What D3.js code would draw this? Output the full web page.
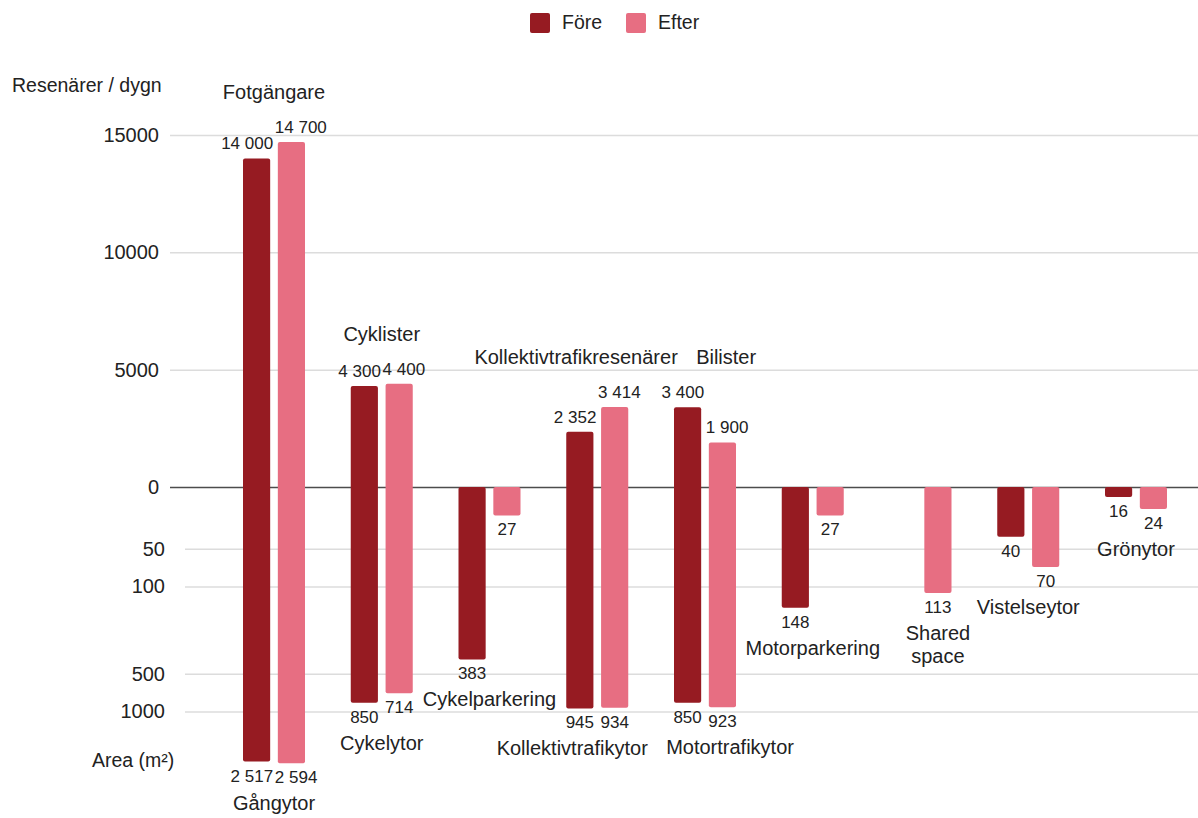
<!DOCTYPE html>
<html>
<head>
<meta charset="utf-8">
<script src="https://cdn.jsdelivr.net/npm/d3@7"></script>
<style>
  html, body { margin: 0; padding: 0; background: #fff; }
  svg { display: block; font-family: "Liberation Sans", Arial, Helvetica, sans-serif; }
</style>
</head>
<body>
<svg id="chart" width="1198" height="818"></svg>
<script>
// ---- Data -------------------------------------------------------------
const series = ["Före", "Efter"];
const travelerGroups = ["Fotgängare", "Cyklister", null, "Kollektivtrafikresenärer", "Bilister", null, null, null, null];
const areaGroups = ["Gångytor", "Cykelytor", "Cykelparkering", "Kollektivtrafikytor", "Motortrafikytor",
                    "Motorparkering", "Shared space", "Vistelseytor", "Grönytor"];
const travelersBefore = [14000, 4300, null, 2352, 3400, null, null, null, null];
const travelersAfter  = [14700, 4400, null, 3414, 1900, null, null, null, null];
const areaBefore = [2517, 850, 383, 945, 850, 148, null, 40, 16];
const areaAfter  = [2594, 714, 27, 934, 923, 27, 113, 70, 24];
const travelerTicks = [0, 5000, 10000, 15000];
const areaTicks = [50, 100, 500, 1000];

// ---- Layout -----------------------------------------------------------
const W = 1198, H = 818;
const gridLeft = 170, areaGridLeft = 185;
const zeroY = 487, travelerTopY = 135;
const decadePx = 125;          // vertical size of one decade on the area axis
const AREA_FLOOR = 16;         // area value that sits on the zero line
const minBar = 10;             // smallest visible bar length below the zero line
const colors = { "Före": "#961b22", "Efter": "#e76e82" };
const textColor = "#222";

const travelers = { "Före": travelersBefore, "Efter": travelersAfter };
const areas = { "Före": areaBefore, "Efter": areaAfter };

const svg = d3.select("#chart");

// ---- Scales -----------------------------------------------------------
const x = d3.scalePoint().domain(d3.range(areaGroups.length)).range([274, 1136]);
const xs = d3.scaleBand().domain(series).range([-31, 31]).paddingInner(0.22);
const bw = xs.bandwidth();

const yT = d3.scaleLinear().domain([0, 15000]).range([zeroY, travelerTopY]);
const yA = d3.scaleLog().domain([AREA_FLOOR, 10000])
  .range([zeroY, zeroY + decadePx * Math.log10(10000 / AREA_FLOOR)]);

// ---- Axes & grid ------------------------------------------------------
const axT = svg.append("g").attr("transform", `translate(${gridLeft},0)`)
  .call(d3.axisLeft(yT).tickValues(travelerTicks).tickFormat(d3.format("d"))
        .tickSize(-(W - gridLeft)).tickPadding(11));
const axA = svg.append("g").attr("transform", `translate(${areaGridLeft},0)`)
  .call(d3.axisLeft(yA).tickValues(areaTicks).tickFormat(d3.format("d"))
        .tickSize(-(W - areaGridLeft)).tickPadding(20));

[axT, axA].forEach(ax => {
  ax.select(".domain").remove();
  ax.attr("font-size", null).attr("font-family", null);
  ax.selectAll(".tick line").attr("stroke", "#dcdcdc").attr("stroke-width", 1.5);
  ax.selectAll(".tick text").attr("fill", textColor).style("font-size", "20px");
});
// zero line
axT.selectAll(".tick").filter(d => d === 0).select("line")
  .attr("stroke", "#4d4d4d").attr("stroke-width", 1.5);

// axis titles
svg.append("text").attr("x", 12).attr("y", 92).attr("fill", textColor)
  .style("font-size", "19.5px").text("Resenärer / dygn");
svg.append("text").attr("x", 92).attr("y", 767).attr("fill", textColor)
  .style("font-size", "19.5px").text("Area (m²)");

// ---- Bars -------------------------------------------------------------
const rows = [];
areaGroups.forEach((g, i) => {
  series.forEach(s => {
    const t = travelers[s][i], a = areas[s][i];
    if (t == null && a == null) return;
    const top = t != null ? yT(t) : zeroY;
    const bottom = a != null ? Math.max(yA(a), zeroY + minBar) : zeroY;
    const left = x(i) + xs(s);
    rows.push({ i, s, t, a, top, bottom, left });
  });
});

svg.append("g").selectAll("rect").data(rows).join("rect")
  .attr("x", d => d.left)
  .attr("y", d => d.top)
  .attr("width", bw)
  .attr("height", d => d.bottom - d.top)
  .attr("rx", 2).attr("ry", 2)
  .attr("fill", d => colors[d.s]);

// ---- Value labels -----------------------------------------------------
const fmt = d3.formatLocale({ decimal: ",", thousands: " ", grouping: [3], currency: ["", " kr"] }).format(",d");
const valG = svg.append("g").attr("fill", textColor).style("font-size", "17px");

function valueLabel(d, v, y) {
  const t = valG.append("text").attr("y", y).text(fmt(v));
  const w = t.node().getComputedTextLength();
  if (w > bw + 6) {
    // wide labels lean away from the neighbouring bar
    if (d.s === "Före") t.attr("text-anchor", "end").attr("x", d.left + bw + 3);
    else t.attr("text-anchor", "start").attr("x", d.left - 3);
  } else {
    t.attr("text-anchor", "middle").attr("x", d.left + bw / 2);
  }
}
rows.forEach(d => {
  if (d.t != null) valueLabel(d, d.t, d.top - 9);
  if (d.a != null) valueLabel(d, d.a, d.bottom + 20);
});

// ---- Category labels --------------------------------------------------
const catG = svg.append("g").attr("fill", textColor).style("font-size", "20px");
const catLabels = [];

function categoryLabel(name, cx, baseline) {
  const lines = name === "Shared space" ? ["Shared", "space"] : [name];
  const t = catG.append("text").attr("text-anchor", "middle")
    .attr("transform", `translate(${cx},${baseline})`);
  lines.forEach((ln, k) => t.append("tspan").attr("x", 0).attr("y", k * 22.5).text(ln));
  catLabels.push({ node: t, cx, baseline });
}

areaGroups.forEach((g, i) => {
  const here = rows.filter(r => r.i === i);
  const withT = here.filter(r => r.t != null);
  if (travelerGroups[i] && withT.length) {
    const cx = d3.mean(withT, r => r.left + bw / 2);
    categoryLabel(travelerGroups[i], cx, d3.min(withT, r => r.top) - 43);
  }
  const withA = here.filter(r => r.a != null);
  if (withA.length) {
    const cx = d3.mean(withA, r => r.left + bw / 2);
    categoryLabel(g, cx, d3.max(withA, r => r.bottom) + 47);
  }
});

// push apart category labels that share a row and overlap horizontally
const margin = 18;
for (let iter = 0; iter < 20; iter++) {
  let moved = false;
  const boxes = catLabels.map(l => {
    const b = l.node.node().getBBox();
    return { l, x0: l.cx + b.x, x1: l.cx + b.x + b.width, y0: l.baseline + b.y, y1: l.baseline + b.y + b.height };
  }).sort((a, b) => a.x0 - b.x0);
  for (let p = 0; p < boxes.length; p++) {
    for (let q = p + 1; q < boxes.length; q++) {
      const A = boxes[p], B = boxes[q];
      if (A.y1 <= B.y0 || B.y1 <= A.y0) continue;
      const ov = A.x1 + margin - B.x0;
      if (ov > 0.5) {
        A.l.cx -= ov / 2; B.l.cx += ov / 2;
        A.x0 -= ov / 2; A.x1 -= ov / 2; B.x0 += ov / 2; B.x1 += ov / 2;
        moved = true;
      }
    }
  }
  catLabels.forEach(l => l.node.attr("transform", `translate(${l.cx},${l.baseline})`));
  if (!moved) break;
}

// ---- Legend -----------------------------------------------------------
const legend = svg.append("g").attr("transform", "translate(530,13)");
const item = legend.selectAll("g").data(series).join("g")
  .attr("transform", (d, k) => `translate(${k * 96},0)`);
item.append("rect").attr("width", 20).attr("height", 20).attr("rx", 2)
  .attr("fill", d => colors[d]);
item.append("text").attr("x", 32).attr("y", 16).attr("fill", textColor)
  .style("font-size", "19.5px").text(d => d);
</script>
</body>
</html>
